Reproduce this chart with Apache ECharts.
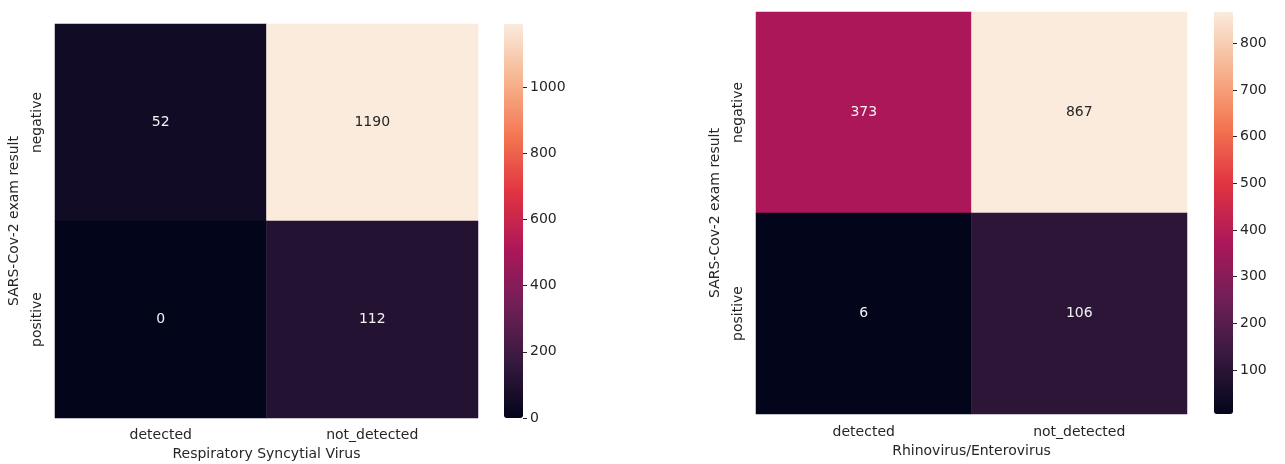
<!DOCTYPE html>
<html>
<head>
<meta charset="utf-8">
<script src="https://cdn.jsdelivr.net/npm/echarts@6/dist/echarts.min.js"></script>
<style>
  html, body { margin: 0; padding: 0; background: #ffffff; }
  #chart { width: 1285px; height: 464px; }
</style>
</head>
<body>
<div id="chart"></div>
<script>
// Category labels shared by both confusion tables
const testResults = ['detected', 'not_detected'];
const covidResults = ['negative', 'positive'];

// Counts: rows follow covidResults, columns follow testResults
const rsvCounts = [
  [52, 1190],
  [0, 112]
];
const rhinoCounts = [
  [373, 867],
  [6, 106]
];

// Colour-bar tick labels
const rsvBarTicks = [0, 200, 400, 600, 800, 1000];
const rhinoBarTicks = [100, 200, 300, 400, 500, 600, 700, 800];

// Axis titles
const rsvTitle = 'Respiratory Syncytial Virus';
const rhinoTitle = 'Rhinovirus/Enterovirus';
const covidTitle = 'SARS-Cov-2 exam result';

// "rocket" colour map stops
const rocket = ['#03051a', '#35193e', '#701f57', '#ad1759', '#e13342', '#f37651', '#f6b48f', '#faebdd'];

const FONT = 'DejaVu Sans';
const TEXT = '#262626';

function flatMin(m) { return Math.min.apply(null, m.flat()); }
function flatMax(m) { return Math.max.apply(null, m.flat()); }

// Build heatmap items; light cells get dark labels, dark cells get light ones
function cells(matrix) {
  const lo = flatMin(matrix), hi = flatMax(matrix);
  const out = [];
  matrix.forEach((row, r) => {
    row.forEach((v, c) => {
      const t = (v - lo) / (hi - lo);
      out.push({
        value: [c, r, v],
        label: { color: t > 0.6 ? TEXT : '#f2f2f2' }
      });
    });
  });
  return out;
}

function catX(gridIndex, title, labelMargin, nameGap) {
  return {
    type: 'category', gridIndex, data: testResults,
    axisLine: { show: false },
    axisTick: { alignWithLabel: true, length: 5, lineStyle: { color: TEXT } },
    axisLabel: { fontFamily: FONT, fontSize: 14, color: TEXT, margin: labelMargin },
    splitLine: { show: false }, splitArea: { show: false },
    name: title, nameLocation: 'middle', nameGap: nameGap,
    nameTextStyle: { fontFamily: FONT, fontSize: 14, color: TEXT }
  };
}

function catY(gridIndex) {
  return {
    type: 'category', gridIndex, data: covidResults, inverse: true,
    axisLine: { show: false },
    axisTick: { alignWithLabel: true, length: 5, lineStyle: { color: TEXT } },
    axisLabel: { fontFamily: FONT, fontSize: 14, color: TEXT, rotate: 90, margin: 11 },
    splitLine: { show: false }, splitArea: { show: false },
    name: covidTitle, nameLocation: 'middle', nameRotate: 90, nameGap: 34,
    nameTextStyle: { fontFamily: FONT, fontSize: 14, color: TEXT }
  };
}

function barAxis(gridIndex, matrix, ticks) {
  return {
    type: 'value', gridIndex, position: 'right',
    min: flatMin(matrix), max: flatMax(matrix),
    axisLine: { show: false, onZero: false },
    axisTick: { show: true, length: 4, customValues: ticks, lineStyle: { color: TEXT } },
    axisLabel: {
      fontFamily: FONT, fontSize: 14, color: TEXT, margin: 7,
      customValues: ticks, formatter: v => String(v)
    },
    splitLine: { show: false }
  };
}

function hiddenX(gridIndex) {
  return { type: 'category', gridIndex, show: false, data: [''] };
}

const chart = echarts.init(document.getElementById('chart'), null, { renderer: 'canvas' });

const option = {
  backgroundColor: '#ffffff',
  animation: false,
  grid: [
    { left: 55, top: 24, width: 423, height: 394, outerBoundsMode: 'none' },
    { left: 756, top: 12, width: 431, height: 402, outerBoundsMode: 'none' },
    { left: 504, top: 24, width: 19, height: 394, outerBoundsMode: 'none' },
    { left: 1214, top: 12, width: 19, height: 402, outerBoundsMode: 'none' }
  ],
  xAxis: [
    catX(0, rsvTitle, 10, 29),
    catX(1, rhinoTitle, 11, 30),
    hiddenX(2),
    hiddenX(3)
  ],
  yAxis: [
    catY(0),
    catY(1),
    barAxis(2, rsvCounts, rsvBarTicks),
    barAxis(3, rhinoCounts, rhinoBarTicks)
  ],
  visualMap: [
    {
      type: 'continuous', seriesIndex: 0, dimension: 2,
      min: flatMin(rsvCounts), max: flatMax(rsvCounts),
      calculable: false, hoverLink: false, text: null,
      orient: 'vertical', left: 504, top: 24, padding: 0,
      itemWidth: 19, itemHeight: 394,
      inRange: { color: rocket }
    },
    {
      type: 'continuous', seriesIndex: 1, dimension: 2,
      min: flatMin(rhinoCounts), max: flatMax(rhinoCounts),
      calculable: false, hoverLink: false, text: null,
      orient: 'vertical', left: 1214, top: 12, padding: 0,
      itemWidth: 19, itemHeight: 402,
      inRange: { color: rocket }
    }
  ],
  series: [
    {
      type: 'heatmap', xAxisIndex: 0, yAxisIndex: 0,
      data: cells(rsvCounts),
      label: { show: true, fontFamily: FONT, fontSize: 14, formatter: p => String(p.value[2]) },
      emphasis: { disabled: true }
    },
    {
      type: 'heatmap', xAxisIndex: 1, yAxisIndex: 1,
      data: cells(rhinoCounts),
      label: { show: true, fontFamily: FONT, fontSize: 14, formatter: p => String(p.value[2]) },
      emphasis: { disabled: true }
    }
  ]
};

chart.setOption(option);
</script>
</body>
</html>
